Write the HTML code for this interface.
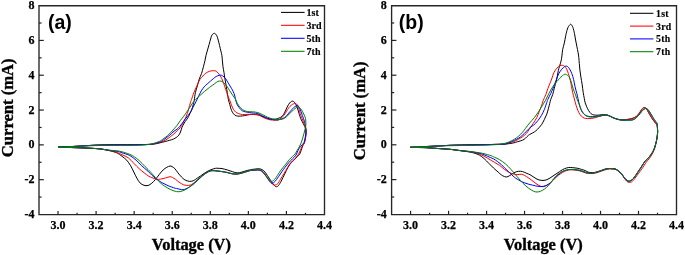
<!DOCTYPE html>
<html><head><meta charset="utf-8"><style>
html,body{margin:0;padding:0;background:#fff;}
body{width:685px;height:255px;overflow:hidden;}
svg{display:block;will-change:transform;}
.tl{font-family:"Liberation Serif",serif;font-weight:bold;font-size:12px;fill:#000;stroke:#000;stroke-width:0.25px;}
.lg{font-family:"Liberation Serif",serif;font-weight:bold;font-size:10px;fill:#000;stroke:#000;stroke-width:0.15px;}
.lgb{letter-spacing:0.35px;font-size:9.8px;}
.at{font-family:"Liberation Serif",serif;font-weight:bold;font-size:16.6px;fill:#000;stroke:#000;stroke-width:0.35px;}
.pl{font-family:"Liberation Sans",sans-serif;font-weight:bold;font-size:19.5px;fill:#000;}
</style></head><body>
<svg width="685" height="255" viewBox="0 0 685 255">
<rect width="685" height="255" fill="#fff"/>
<path d="M58.00,147.20 C59.33,147.13 62.97,146.95 66.00,146.80 C69.03,146.65 71.37,146.57 76.20,146.30 C81.03,146.03 89.87,145.43 95.00,145.20 C100.13,144.97 102.83,144.97 107.00,144.90 C111.17,144.83 115.33,144.83 120.00,144.80 C124.67,144.78 130.67,144.80 135.00,144.75 C139.33,144.70 143.20,144.59 146.00,144.50 C148.80,144.41 150.08,144.33 151.80,144.20 C153.52,144.07 154.93,143.93 156.30,143.70 C157.67,143.47 158.43,143.18 160.00,142.80 C161.57,142.42 163.45,142.03 165.70,141.40 C167.95,140.77 171.42,139.92 173.50,139.00 C175.58,138.08 177.03,137.07 178.20,135.90 C179.37,134.73 179.90,133.37 180.50,132.00 C181.10,130.63 181.18,129.20 181.80,127.70 C182.42,126.20 183.42,124.32 184.20,123.00 C184.98,121.68 185.78,120.85 186.50,119.80 C187.22,118.75 187.93,117.75 188.50,116.70 C189.07,115.65 189.37,114.65 189.90,113.50 C190.43,112.35 191.15,111.23 191.70,109.80 C192.25,108.37 192.78,106.45 193.20,104.90 C193.62,103.35 193.83,102.55 194.20,100.50 C194.57,98.45 194.87,95.05 195.40,92.60 C195.93,90.15 196.75,88.08 197.40,85.80 C198.05,83.52 198.62,80.93 199.30,78.90 C199.98,76.87 200.82,75.62 201.50,73.60 C202.18,71.58 202.83,68.92 203.40,66.80 C203.97,64.68 204.47,62.80 204.90,60.90 C205.33,59.00 205.57,57.22 206.00,55.40 C206.43,53.58 206.98,51.82 207.50,50.00 C208.02,48.18 208.58,46.33 209.10,44.50 C209.62,42.67 210.13,40.57 210.60,39.00 C211.07,37.43 211.27,36.05 211.90,35.10 C212.53,34.15 213.58,33.20 214.40,33.30 C215.22,33.40 216.17,34.57 216.80,35.70 C217.43,36.83 217.73,38.45 218.20,40.10 C218.67,41.75 219.15,43.77 219.60,45.60 C220.05,47.43 220.52,49.47 220.90,51.10 C221.28,52.73 221.65,53.77 221.90,55.40 C222.15,57.03 222.22,59.00 222.40,60.90 C222.58,62.80 222.73,64.85 223.00,66.80 C223.27,68.75 223.73,70.90 224.00,72.60 C224.27,74.30 224.38,75.62 224.60,77.00 C224.82,78.38 225.02,79.27 225.30,80.90 C225.58,82.53 225.97,84.85 226.30,86.80 C226.63,88.75 226.95,90.45 227.30,92.60 C227.65,94.75 227.97,97.67 228.40,99.70 C228.83,101.73 229.48,103.30 229.90,104.80 C230.32,106.30 230.48,107.47 230.90,108.70 C231.32,109.93 231.75,111.13 232.40,112.20 C233.05,113.27 233.92,114.45 234.80,115.10 C235.68,115.75 236.72,115.93 237.70,116.10 C238.68,116.27 239.55,116.18 240.70,116.10 C241.85,116.02 243.13,115.85 244.60,115.60 C246.07,115.35 248.02,114.78 249.50,114.60 C250.98,114.42 252.12,114.45 253.50,114.50 C254.88,114.55 256.60,114.70 257.80,114.90 C259.00,115.10 259.40,115.23 260.70,115.70 C262.00,116.17 264.05,117.15 265.60,117.70 C267.15,118.25 268.43,118.73 270.00,119.00 C271.57,119.27 273.52,119.45 275.00,119.30 C276.48,119.15 277.67,118.63 278.90,118.10 C280.13,117.57 281.42,117.08 282.40,116.10 C283.38,115.12 284.07,113.58 284.80,112.20 C285.53,110.82 286.15,109.12 286.80,107.80 C287.45,106.48 288.05,105.28 288.70,104.30 C289.35,103.32 290.05,102.43 290.70,101.90 C291.35,101.37 291.95,101.02 292.60,101.10 C293.25,101.18 293.93,101.62 294.60,102.40 C295.27,103.18 296.03,104.53 296.60,105.80 C297.17,107.07 297.55,108.58 298.00,110.00 C298.45,111.42 298.83,112.83 299.30,114.30 C299.77,115.77 300.15,117.27 300.80,118.80 C301.45,120.33 302.53,122.22 303.20,123.50 C303.87,124.78 304.37,125.58 304.80,126.50 C305.23,127.42 305.60,128.08 305.80,129.00 C306.00,129.92 306.00,130.83 306.00,132.00 C306.00,133.17 306.07,134.20 305.80,136.00 C305.53,137.80 304.93,141.13 304.40,142.80 C303.87,144.47 303.13,144.77 302.60,146.00 C302.07,147.23 301.67,148.90 301.20,150.20 C300.73,151.50 300.45,152.73 299.80,153.80 C299.15,154.87 298.18,155.67 297.30,156.60 C296.42,157.53 295.45,158.47 294.50,159.40 C293.55,160.33 292.68,160.88 291.60,162.20 C290.52,163.52 289.17,165.30 288.00,167.30 C286.83,169.30 285.73,171.90 284.60,174.20 C283.47,176.50 282.22,179.22 281.20,181.10 C280.18,182.98 279.33,184.57 278.50,185.50 C277.67,186.43 276.98,186.80 276.20,186.70 C275.42,186.60 274.68,185.88 273.80,184.90 C272.92,183.92 271.97,182.37 270.90,180.80 C269.83,179.23 268.58,177.17 267.40,175.50 C266.22,173.83 265.08,171.92 263.80,170.80 C262.52,169.68 261.17,169.08 259.70,168.80 C258.23,168.52 256.12,169.02 255.00,169.10 C253.88,169.18 254.18,169.10 253.00,169.30 C251.82,169.50 249.77,169.83 247.90,170.30 C246.03,170.77 243.60,171.67 241.80,172.10 C240.00,172.53 238.68,172.98 237.10,172.90 C235.52,172.82 233.95,172.10 232.30,171.60 C230.65,171.10 228.92,170.40 227.20,169.90 C225.48,169.40 223.53,168.87 222.00,168.60 C220.47,168.33 219.07,168.35 218.00,168.30 C216.93,168.25 216.82,168.05 215.60,168.30 C214.38,168.55 212.33,169.13 210.70,169.80 C209.07,170.47 207.50,171.27 205.80,172.30 C204.10,173.33 201.92,175.03 200.50,176.00 C199.08,176.97 198.42,177.35 197.30,178.10 C196.18,178.85 195.08,179.95 193.80,180.50 C192.52,181.05 191.08,181.50 189.60,181.40 C188.12,181.30 186.27,180.65 184.90,179.90 C183.53,179.15 182.57,178.08 181.40,176.90 C180.23,175.72 178.98,174.17 177.90,172.80 C176.82,171.43 175.88,169.73 174.90,168.70 C173.92,167.67 172.82,167.05 172.00,166.60 C171.18,166.15 170.87,165.88 170.00,166.00 C169.13,166.12 167.95,166.63 166.80,167.30 C165.65,167.97 164.35,168.82 163.10,170.00 C161.85,171.18 160.57,172.83 159.30,174.40 C158.03,175.97 156.75,177.93 155.50,179.40 C154.25,180.87 153.05,182.18 151.80,183.20 C150.55,184.22 149.30,185.15 148.00,185.50 C146.70,185.85 145.33,185.73 144.00,185.30 C142.67,184.87 141.18,184.08 140.00,182.90 C138.82,181.72 137.93,180.02 136.90,178.20 C135.87,176.38 134.85,174.08 133.80,172.00 C132.75,169.92 131.78,167.67 130.60,165.70 C129.42,163.73 128.13,161.77 126.70,160.20 C125.27,158.63 123.62,157.53 122.00,156.30 C120.38,155.07 118.88,153.70 117.00,152.80 C115.12,151.90 113.05,151.48 110.70,150.90 C108.35,150.32 105.52,149.70 102.90,149.30 C100.28,148.90 98.82,148.75 95.00,148.50 C91.18,148.25 84.83,147.98 80.00,147.80 C75.17,147.62 69.67,147.50 66.00,147.40 C62.33,147.30 59.33,147.23 58.00,147.20" fill="none" stroke="#000000" stroke-width="1.0" stroke-linejoin="round"/>
<path d="M58.00,147.20 C59.33,147.13 62.97,146.95 66.00,146.80 C69.03,146.65 71.37,146.57 76.20,146.30 C81.03,146.03 89.87,145.43 95.00,145.20 C100.13,144.97 102.83,144.97 107.00,144.90 C111.17,144.83 115.33,144.83 120.00,144.80 C124.67,144.78 130.67,144.80 135.00,144.75 C139.33,144.70 143.20,144.59 146.00,144.50 C148.80,144.41 149.80,144.45 151.80,144.20 C153.80,143.95 156.13,143.48 158.00,143.00 C159.87,142.52 161.50,141.93 163.00,141.30 C164.50,140.67 165.77,139.97 167.00,139.20 C168.23,138.43 169.23,137.60 170.40,136.70 C171.57,135.80 172.88,134.78 174.00,133.80 C175.12,132.82 176.05,131.82 177.10,130.80 C178.15,129.78 179.32,129.00 180.30,127.70 C181.28,126.40 182.15,124.57 183.00,123.00 C183.85,121.43 184.68,119.87 185.40,118.30 C186.12,116.73 186.73,115.23 187.30,113.60 C187.87,111.97 188.30,110.28 188.80,108.50 C189.30,106.72 189.85,104.40 190.30,102.90 C190.75,101.40 190.90,101.22 191.50,99.50 C192.10,97.78 193.00,94.88 193.90,92.60 C194.80,90.32 195.92,87.97 196.90,85.80 C197.88,83.63 198.80,81.22 199.80,79.60 C200.80,77.98 201.88,77.18 202.90,76.10 C203.92,75.02 204.75,73.92 205.90,73.10 C207.05,72.28 208.50,71.60 209.80,71.20 C211.10,70.80 212.63,70.70 213.70,70.70 C214.77,70.70 215.47,70.80 216.20,71.20 C216.93,71.60 217.45,72.37 218.10,73.10 C218.75,73.83 219.47,74.63 220.10,75.60 C220.73,76.57 221.28,77.53 221.90,78.90 C222.52,80.27 223.15,82.00 223.80,83.80 C224.45,85.60 225.15,87.78 225.80,89.70 C226.45,91.62 227.08,93.63 227.70,95.30 C228.32,96.97 228.88,98.12 229.50,99.70 C230.12,101.28 230.77,103.22 231.40,104.80 C232.03,106.38 232.57,107.97 233.30,109.20 C234.03,110.43 234.90,111.47 235.80,112.20 C236.70,112.93 237.57,113.20 238.70,113.60 C239.83,114.00 241.05,114.48 242.60,114.60 C244.15,114.72 246.28,114.35 248.00,114.30 C249.72,114.25 251.27,114.23 252.90,114.30 C254.53,114.37 256.17,114.22 257.80,114.70 C259.43,115.18 261.07,116.45 262.70,117.20 C264.33,117.95 265.97,118.72 267.60,119.20 C269.23,119.68 270.77,119.95 272.50,120.10 C274.23,120.25 276.60,120.43 278.00,120.10 C279.40,119.77 279.93,118.85 280.90,118.10 C281.87,117.35 282.90,116.67 283.80,115.60 C284.70,114.53 285.48,113.00 286.30,111.70 C287.12,110.40 287.88,108.87 288.70,107.80 C289.52,106.73 290.38,105.97 291.20,105.30 C292.02,104.63 292.87,104.08 293.60,103.80 C294.33,103.52 294.98,103.43 295.60,103.60 C296.22,103.77 296.78,103.98 297.30,104.80 C297.82,105.62 298.12,106.75 298.70,108.50 C299.28,110.25 300.05,113.18 300.80,115.30 C301.55,117.42 302.52,119.33 303.20,121.20 C303.88,123.07 304.45,125.03 304.90,126.50 C305.35,127.97 305.73,128.92 305.90,130.00 C306.07,131.08 305.95,131.83 305.90,133.00 C305.85,134.17 305.87,135.37 305.60,137.00 C305.33,138.63 304.92,141.18 304.30,142.80 C303.68,144.42 302.77,144.98 301.90,146.70 C301.03,148.42 300.00,151.42 299.10,153.10 C298.20,154.78 297.38,155.63 296.50,156.80 C295.62,157.97 294.85,159.02 293.80,160.10 C292.75,161.18 291.25,162.07 290.20,163.30 C289.15,164.53 288.53,165.80 287.50,167.50 C286.47,169.20 285.17,171.55 284.00,173.50 C282.83,175.45 281.55,177.48 280.50,179.20 C279.45,180.92 278.48,182.87 277.70,183.80 C276.92,184.73 276.45,184.62 275.80,184.80 C275.15,184.98 274.62,185.27 273.80,184.90 C272.98,184.53 271.88,183.67 270.90,182.60 C269.92,181.53 268.98,180.07 267.90,178.50 C266.82,176.93 265.57,174.58 264.40,173.20 C263.23,171.82 262.47,170.73 260.90,170.20 C259.33,169.67 256.82,169.93 255.00,170.00 C253.18,170.07 251.18,170.40 250.00,170.60 C248.82,170.80 249.12,170.83 247.90,171.20 C246.68,171.57 244.43,172.33 242.70,172.80 C240.97,173.27 239.23,173.83 237.50,174.00 C235.77,174.17 234.02,174.05 232.30,173.80 C230.58,173.55 228.92,172.87 227.20,172.50 C225.48,172.13 223.93,171.88 222.00,171.60 C220.07,171.32 217.48,170.93 215.60,170.80 C213.72,170.67 212.33,170.40 210.70,170.80 C209.07,171.20 207.50,172.17 205.80,173.20 C204.10,174.23 202.22,175.60 200.50,177.00 C198.78,178.40 197.02,180.33 195.50,181.60 C193.98,182.87 192.57,183.97 191.40,184.60 C190.23,185.23 189.77,185.35 188.50,185.40 C187.23,185.45 185.37,185.43 183.80,184.90 C182.23,184.37 180.48,183.13 179.10,182.20 C177.72,181.27 176.60,180.08 175.50,179.30 C174.40,178.52 173.42,177.93 172.50,177.50 C171.58,177.07 171.15,176.63 170.00,176.70 C168.85,176.77 167.18,177.50 165.60,177.90 C164.02,178.30 162.07,178.88 160.50,179.10 C158.93,179.32 157.65,179.45 156.20,179.20 C154.75,178.95 153.08,178.13 151.80,177.60 C150.52,177.07 149.80,176.82 148.50,176.00 C147.20,175.18 145.53,173.90 144.00,172.70 C142.47,171.50 141.00,170.37 139.30,168.80 C137.60,167.23 135.63,165.13 133.80,163.30 C131.97,161.47 130.27,159.23 128.30,157.80 C126.33,156.37 123.62,155.47 122.00,154.70 C120.38,153.93 120.48,153.83 118.60,153.20 C116.72,152.57 113.32,151.55 110.70,150.90 C108.08,150.25 105.52,149.70 102.90,149.30 C100.28,148.90 98.82,148.75 95.00,148.50 C91.18,148.25 84.83,147.98 80.00,147.80 C75.17,147.62 69.67,147.50 66.00,147.40 C62.33,147.30 59.33,147.23 58.00,147.20" fill="none" stroke="#ff0000" stroke-width="1.0" stroke-linejoin="round"/>
<path d="M58.00,147.20 C59.33,147.13 62.97,146.95 66.00,146.80 C69.03,146.65 71.37,146.57 76.20,146.30 C81.03,146.03 89.87,145.43 95.00,145.20 C100.13,144.97 102.83,144.97 107.00,144.90 C111.17,144.83 115.33,144.83 120.00,144.80 C124.67,144.78 130.67,144.80 135.00,144.75 C139.33,144.70 143.20,144.59 146.00,144.50 C148.80,144.41 149.57,144.58 151.80,144.20 C154.03,143.82 157.45,142.93 159.40,142.20 C161.35,141.47 161.93,140.85 163.50,139.80 C165.07,138.75 167.05,137.33 168.80,135.90 C170.55,134.47 172.48,132.43 174.00,131.20 C175.52,129.97 176.60,129.73 177.90,128.50 C179.20,127.27 180.48,125.50 181.80,123.80 C183.12,122.10 184.42,120.13 185.80,118.30 C187.18,116.47 188.95,114.55 190.10,112.80 C191.25,111.05 191.70,109.68 192.70,107.80 C193.70,105.92 194.92,103.87 196.10,101.50 C197.28,99.13 198.70,95.73 199.80,93.60 C200.90,91.47 201.72,90.08 202.70,88.70 C203.68,87.32 204.55,86.43 205.70,85.30 C206.85,84.17 208.58,82.78 209.60,81.90 C210.62,81.02 210.95,80.73 211.80,80.00 C212.65,79.27 213.73,78.20 214.70,77.50 C215.67,76.80 216.62,76.20 217.60,75.80 C218.58,75.40 219.73,75.07 220.60,75.10 C221.47,75.13 221.93,75.37 222.80,76.00 C223.67,76.63 224.82,77.60 225.80,78.90 C226.78,80.20 227.72,82.17 228.70,83.80 C229.68,85.43 230.80,87.07 231.70,88.70 C232.60,90.33 233.48,91.93 234.10,93.60 C234.72,95.27 234.95,97.00 235.40,98.70 C235.85,100.40 236.17,102.30 236.80,103.80 C237.43,105.30 238.30,106.55 239.20,107.70 C240.10,108.85 241.13,110.00 242.20,110.70 C243.27,111.40 244.38,111.60 245.60,111.90 C246.82,112.20 248.28,112.32 249.50,112.50 C250.72,112.68 251.52,112.82 252.90,113.00 C254.28,113.18 256.17,113.10 257.80,113.60 C259.43,114.10 261.07,115.22 262.70,116.00 C264.33,116.78 265.97,117.72 267.60,118.30 C269.23,118.88 270.77,119.25 272.50,119.50 C274.23,119.75 276.28,119.97 278.00,119.80 C279.72,119.63 281.50,119.03 282.80,118.50 C284.10,117.97 284.82,117.48 285.80,116.60 C286.78,115.72 287.80,114.27 288.70,113.20 C289.60,112.13 290.38,111.10 291.20,110.20 C292.02,109.30 292.78,108.53 293.60,107.80 C294.42,107.07 295.37,106.13 296.10,105.80 C296.83,105.47 297.45,105.52 298.00,105.80 C298.55,106.08 298.93,106.63 299.40,107.50 C299.87,108.37 300.32,109.70 300.80,111.00 C301.28,112.30 301.70,113.60 302.30,115.30 C302.90,117.00 303.87,119.42 304.40,121.20 C304.93,122.98 305.23,124.53 305.50,126.00 C305.77,127.47 305.93,128.83 306.00,130.00 C306.07,131.17 306.02,131.83 305.90,133.00 C305.78,134.17 305.62,135.42 305.30,137.00 C304.98,138.58 304.80,140.92 304.00,142.50 C303.20,144.08 301.50,145.17 300.50,146.50 C299.50,147.83 298.77,149.05 298.00,150.50 C297.23,151.95 296.82,153.82 295.90,155.20 C294.98,156.58 293.68,157.57 292.50,158.80 C291.32,160.03 290.05,161.18 288.80,162.60 C287.55,164.02 286.12,165.83 285.00,167.30 C283.88,168.77 283.18,169.83 282.10,171.40 C281.02,172.97 279.68,175.03 278.50,176.70 C277.32,178.37 276.07,180.32 275.00,181.40 C273.93,182.48 272.98,183.20 272.10,183.20 C271.22,183.20 270.58,182.38 269.70,181.40 C268.82,180.42 267.88,178.77 266.80,177.30 C265.72,175.83 264.38,173.78 263.20,172.60 C262.02,171.42 261.07,170.60 259.70,170.20 C258.33,169.80 256.62,170.13 255.00,170.20 C253.38,170.27 251.18,170.43 250.00,170.60 C248.82,170.77 249.12,170.83 247.90,171.20 C246.68,171.57 244.43,172.33 242.70,172.80 C240.97,173.27 239.23,173.83 237.50,174.00 C235.77,174.17 234.02,174.05 232.30,173.80 C230.58,173.55 228.92,172.87 227.20,172.50 C225.48,172.13 223.93,171.88 222.00,171.60 C220.07,171.32 217.48,170.93 215.60,170.80 C213.72,170.67 212.33,170.40 210.70,170.80 C209.07,171.20 207.58,171.98 205.80,173.20 C204.02,174.42 201.90,176.40 200.00,178.10 C198.10,179.80 196.13,181.93 194.40,183.40 C192.67,184.87 191.18,185.92 189.60,186.90 C188.02,187.88 186.27,188.85 184.90,189.30 C183.53,189.75 182.77,189.73 181.40,189.60 C180.03,189.47 177.77,188.73 176.70,188.50 C175.63,188.27 176.43,188.67 175.00,188.20 C173.57,187.73 170.30,186.63 168.10,185.70 C165.90,184.77 163.78,183.75 161.80,182.60 C159.82,181.45 157.87,180.05 156.20,178.80 C154.53,177.55 153.17,176.37 151.80,175.10 C150.43,173.83 149.70,172.77 148.00,171.20 C146.30,169.63 143.58,167.53 141.60,165.70 C139.62,163.87 138.07,161.90 136.10,160.20 C134.13,158.50 132.15,156.73 129.80,155.50 C127.45,154.27 123.97,153.45 122.00,152.80 C120.03,152.15 119.88,151.97 118.00,151.60 C116.12,151.23 113.22,150.98 110.70,150.60 C108.18,150.22 105.52,149.65 102.90,149.30 C100.28,148.95 98.82,148.75 95.00,148.50 C91.18,148.25 84.83,147.98 80.00,147.80 C75.17,147.62 69.67,147.50 66.00,147.40 C62.33,147.30 59.33,147.23 58.00,147.20" fill="none" stroke="#0000ff" stroke-width="1.0" stroke-linejoin="round"/>
<path d="M58.00,147.20 C59.33,147.13 62.97,146.95 66.00,146.80 C69.03,146.65 71.37,146.50 76.20,146.30 C81.03,146.10 89.37,145.73 95.00,145.60 C100.63,145.47 104.17,145.53 110.00,145.50 C115.83,145.47 125.00,145.45 130.00,145.40 C135.00,145.35 136.67,145.38 140.00,145.20 C143.33,145.02 146.77,144.93 150.00,144.30 C153.23,143.67 157.20,142.32 159.40,141.40 C161.60,140.48 161.88,139.72 163.20,138.80 C164.52,137.88 166.00,137.00 167.30,135.90 C168.60,134.80 169.88,133.37 171.00,132.20 C172.12,131.03 172.98,130.05 174.00,128.90 C175.02,127.75 176.05,126.68 177.10,125.30 C178.15,123.92 179.25,122.03 180.30,120.60 C181.35,119.17 182.42,118.00 183.40,116.70 C184.38,115.40 185.13,114.35 186.20,112.80 C187.27,111.25 188.72,109.05 189.80,107.40 C190.88,105.75 191.75,104.20 192.70,102.90 C193.65,101.60 194.32,100.82 195.50,99.60 C196.68,98.38 198.27,97.00 199.80,95.60 C201.33,94.20 203.07,92.58 204.70,91.20 C206.33,89.82 207.97,88.53 209.60,87.30 C211.23,86.07 213.12,84.78 214.50,83.80 C215.88,82.82 216.83,81.85 217.90,81.40 C218.97,80.95 220.00,80.93 220.90,81.10 C221.80,81.27 222.57,81.87 223.30,82.40 C224.03,82.93 224.63,83.57 225.30,84.30 C225.97,85.03 226.57,85.73 227.30,86.80 C228.03,87.87 228.82,89.32 229.70,90.70 C230.58,92.08 231.67,93.73 232.60,95.10 C233.53,96.47 234.52,97.53 235.30,98.90 C236.08,100.27 236.57,101.98 237.30,103.30 C238.03,104.62 238.82,105.73 239.70,106.80 C240.58,107.87 241.53,108.97 242.60,109.70 C243.67,110.43 244.95,110.87 246.10,111.20 C247.25,111.53 248.37,111.60 249.50,111.70 C250.63,111.80 251.52,111.65 252.90,111.80 C254.28,111.95 256.17,112.12 257.80,112.60 C259.43,113.08 261.07,113.93 262.70,114.70 C264.33,115.47 265.97,116.50 267.60,117.20 C269.23,117.90 270.77,118.52 272.50,118.90 C274.23,119.28 276.60,119.40 278.00,119.50 C279.40,119.60 279.77,119.73 280.90,119.50 C282.03,119.27 283.67,118.75 284.80,118.10 C285.93,117.45 286.72,116.50 287.70,115.60 C288.68,114.70 289.72,113.68 290.70,112.70 C291.68,111.72 292.70,110.52 293.60,109.70 C294.50,108.88 295.28,108.25 296.10,107.80 C296.92,107.35 297.77,106.88 298.50,107.00 C299.23,107.12 299.83,107.75 300.50,108.50 C301.17,109.25 301.88,110.42 302.50,111.50 C303.12,112.58 303.70,113.83 304.20,115.00 C304.70,116.17 305.22,117.08 305.50,118.50 C305.78,119.92 305.90,122.08 305.90,123.50 C305.90,124.92 305.72,125.75 305.50,127.00 C305.28,128.25 304.97,129.50 304.60,131.00 C304.23,132.50 303.77,134.33 303.30,136.00 C302.83,137.67 302.40,139.33 301.80,141.00 C301.20,142.67 300.45,144.47 299.70,146.00 C298.95,147.53 298.05,148.90 297.30,150.20 C296.55,151.50 296.02,152.73 295.20,153.80 C294.38,154.87 293.35,155.67 292.40,156.60 C291.45,157.53 290.45,158.35 289.50,159.40 C288.55,160.45 287.55,161.83 286.70,162.90 C285.85,163.97 285.37,164.58 284.40,165.80 C283.43,167.02 282.07,168.58 280.90,170.20 C279.73,171.82 278.48,173.93 277.40,175.50 C276.32,177.07 275.38,178.62 274.40,179.60 C273.42,180.58 272.48,181.48 271.50,181.40 C270.52,181.32 269.48,180.08 268.50,179.10 C267.52,178.12 266.67,176.78 265.60,175.50 C264.53,174.22 263.28,172.43 262.10,171.40 C260.92,170.37 259.68,169.60 258.50,169.30 C257.32,169.00 256.42,169.38 255.00,169.60 C253.58,169.82 251.18,170.33 250.00,170.60 C248.82,170.87 249.12,170.83 247.90,171.20 C246.68,171.57 244.43,172.33 242.70,172.80 C240.97,173.27 239.23,173.83 237.50,174.00 C235.77,174.17 234.02,174.05 232.30,173.80 C230.58,173.55 228.92,172.87 227.20,172.50 C225.48,172.13 223.93,171.88 222.00,171.60 C220.07,171.32 217.48,170.93 215.60,170.80 C213.72,170.67 212.33,170.40 210.70,170.80 C209.07,171.20 207.58,172.08 205.80,173.20 C204.02,174.32 201.90,175.90 200.00,177.50 C198.10,179.10 196.13,181.23 194.40,182.80 C192.67,184.37 191.18,185.72 189.60,186.90 C188.02,188.08 186.47,189.12 184.90,189.90 C183.33,190.68 181.57,191.32 180.20,191.60 C178.83,191.88 177.57,191.67 176.70,191.60 C175.83,191.53 176.02,191.53 175.00,191.20 C173.98,190.87 172.32,190.43 170.60,189.60 C168.88,188.77 166.38,187.30 164.70,186.20 C163.02,185.10 161.80,184.15 160.50,183.00 C159.20,181.85 158.48,181.05 156.90,179.30 C155.32,177.55 152.97,174.62 151.00,172.50 C149.03,170.38 147.07,168.58 145.10,166.60 C143.13,164.62 140.97,162.20 139.20,160.60 C137.43,159.00 136.13,158.07 134.50,157.00 C132.87,155.93 131.88,155.17 129.40,154.20 C126.92,153.23 122.72,151.85 119.60,151.20 C116.48,150.55 113.48,150.62 110.70,150.30 C107.92,149.98 105.52,149.60 102.90,149.30 C100.28,149.00 98.82,148.75 95.00,148.50 C91.18,148.25 84.83,147.98 80.00,147.80 C75.17,147.62 69.67,147.50 66.00,147.40 C62.33,147.30 59.33,147.23 58.00,147.20" fill="none" stroke="#008000" stroke-width="1.0" stroke-linejoin="round"/>
<path d="M39.00,5.75 H324.50 V214.62 H39.00 Z" fill="none" stroke="#262626" stroke-width="1.35"/>
<line x1="39.00" y1="197.09" x2="41.60" y2="197.09" stroke="#222" stroke-width="1.2"/>
<line x1="39.00" y1="179.68" x2="43.80" y2="179.68" stroke="#222" stroke-width="1.2"/>
<line x1="39.00" y1="162.27" x2="41.60" y2="162.27" stroke="#222" stroke-width="1.2"/>
<line x1="39.00" y1="144.87" x2="43.80" y2="144.87" stroke="#222" stroke-width="1.2"/>
<line x1="39.00" y1="127.46" x2="41.60" y2="127.46" stroke="#222" stroke-width="1.2"/>
<line x1="39.00" y1="110.05" x2="43.80" y2="110.05" stroke="#222" stroke-width="1.2"/>
<line x1="39.00" y1="92.64" x2="41.60" y2="92.64" stroke="#222" stroke-width="1.2"/>
<line x1="39.00" y1="75.23" x2="43.80" y2="75.23" stroke="#222" stroke-width="1.2"/>
<line x1="39.00" y1="57.82" x2="41.60" y2="57.82" stroke="#222" stroke-width="1.2"/>
<line x1="39.00" y1="40.42" x2="43.80" y2="40.42" stroke="#222" stroke-width="1.2"/>
<line x1="39.00" y1="23.01" x2="41.60" y2="23.01" stroke="#222" stroke-width="1.2"/>
<text x="34.40" y="218.10" class="tl" text-anchor="end">-4</text>
<text x="34.40" y="183.28" class="tl" text-anchor="end">-2</text>
<text x="34.40" y="148.47" class="tl" text-anchor="end">0</text>
<text x="34.40" y="113.65" class="tl" text-anchor="end">2</text>
<text x="34.40" y="78.83" class="tl" text-anchor="end">4</text>
<text x="34.40" y="44.02" class="tl" text-anchor="end">6</text>
<text x="34.40" y="9.20" class="tl" text-anchor="end">8</text>
<line x1="58.03" y1="214.50" x2="58.03" y2="210.90" stroke="#222" stroke-width="1.2"/>
<line x1="77.07" y1="214.50" x2="77.07" y2="212.80" stroke="#222" stroke-width="1.2"/>
<line x1="96.10" y1="214.50" x2="96.10" y2="210.90" stroke="#222" stroke-width="1.2"/>
<line x1="115.13" y1="214.50" x2="115.13" y2="212.80" stroke="#222" stroke-width="1.2"/>
<line x1="134.17" y1="214.50" x2="134.17" y2="210.90" stroke="#222" stroke-width="1.2"/>
<line x1="153.20" y1="214.50" x2="153.20" y2="212.80" stroke="#222" stroke-width="1.2"/>
<line x1="172.23" y1="214.50" x2="172.23" y2="210.90" stroke="#222" stroke-width="1.2"/>
<line x1="191.27" y1="214.50" x2="191.27" y2="212.80" stroke="#222" stroke-width="1.2"/>
<line x1="210.30" y1="214.50" x2="210.30" y2="210.90" stroke="#222" stroke-width="1.2"/>
<line x1="229.33" y1="214.50" x2="229.33" y2="212.80" stroke="#222" stroke-width="1.2"/>
<line x1="248.37" y1="214.50" x2="248.37" y2="210.90" stroke="#222" stroke-width="1.2"/>
<line x1="267.40" y1="214.50" x2="267.40" y2="212.80" stroke="#222" stroke-width="1.2"/>
<line x1="286.43" y1="214.50" x2="286.43" y2="210.90" stroke="#222" stroke-width="1.2"/>
<line x1="305.47" y1="214.50" x2="305.47" y2="212.80" stroke="#222" stroke-width="1.2"/>
<text x="58.03" y="229.20" class="tl" text-anchor="middle">3.0</text>
<text x="96.10" y="229.20" class="tl" text-anchor="middle">3.2</text>
<text x="134.17" y="229.20" class="tl" text-anchor="middle">3.4</text>
<text x="172.23" y="229.20" class="tl" text-anchor="middle">3.6</text>
<text x="210.30" y="229.20" class="tl" text-anchor="middle">3.8</text>
<text x="248.37" y="229.20" class="tl" text-anchor="middle">4.0</text>
<text x="286.43" y="229.20" class="tl" text-anchor="middle">4.2</text>
<text x="324.50" y="229.20" class="tl" text-anchor="middle">4.4</text>
<line x1="281.00" y1="12.40" x2="304.60" y2="12.40" stroke="#000000" stroke-width="1.05"/>
<text x="306.60" y="15.90" class="lg">1st</text>
<line x1="281.00" y1="25.30" x2="304.60" y2="25.30" stroke="#ff0000" stroke-width="1.05"/>
<text x="306.60" y="28.80" class="lg">3rd</text>
<line x1="281.00" y1="38.30" x2="304.60" y2="38.30" stroke="#0000ff" stroke-width="1.05"/>
<text x="306.60" y="41.80" class="lg">5th</text>
<line x1="281.00" y1="51.30" x2="304.60" y2="51.30" stroke="#008000" stroke-width="1.05"/>
<text x="306.60" y="54.80" class="lg">7th</text>
<text x="47.90" y="28.50" class="pl">(a)</text>
<text x="191.40" y="250.20" class="at" style="font-size:16.4px" text-anchor="middle">Voltage (V)</text>
<text transform="translate(13.20,107.80) rotate(-90)" class="at" text-anchor="middle">Current (mA)</text>
<path d="M410.30,147.30 C411.58,147.25 415.27,147.13 418.00,147.00 C420.73,146.87 422.92,146.69 426.70,146.50 C430.48,146.31 436.82,146.05 440.70,145.85 C444.58,145.65 446.78,145.43 450.00,145.30 C453.22,145.17 456.33,145.12 460.00,145.05 C463.67,144.98 467.83,144.92 472.00,144.85 C476.17,144.78 481.17,144.72 485.00,144.65 C488.83,144.58 491.68,144.49 495.00,144.40 C498.32,144.31 501.95,144.32 504.90,144.10 C507.85,143.88 510.58,143.50 512.70,143.10 C514.82,142.70 515.97,142.18 517.60,141.70 C519.23,141.22 521.18,140.78 522.50,140.20 C523.82,139.62 524.52,139.02 525.50,138.20 C526.48,137.38 527.48,136.03 528.40,135.30 C529.32,134.57 529.98,134.38 531.00,133.80 C532.02,133.22 533.43,132.53 534.50,131.80 C535.57,131.07 536.23,130.58 537.40,129.40 C538.57,128.22 540.33,126.37 541.50,124.70 C542.67,123.03 543.52,121.17 544.40,119.40 C545.28,117.63 546.12,115.97 546.80,114.10 C547.48,112.23 548.02,109.97 548.50,108.20 C548.98,106.43 549.33,104.95 549.70,103.50 C550.07,102.05 550.20,100.98 550.70,99.50 C551.20,98.02 552.12,96.40 552.70,94.60 C553.28,92.80 553.78,90.33 554.20,88.70 C554.62,87.07 554.80,86.27 555.20,84.80 C555.60,83.33 556.22,81.53 556.60,79.90 C556.98,78.27 557.22,76.53 557.50,75.00 C557.78,73.47 558.00,72.07 558.30,70.70 C558.60,69.33 558.97,67.95 559.30,66.80 C559.63,65.65 559.97,64.95 560.30,63.80 C560.63,62.65 561.03,61.20 561.30,59.90 C561.57,58.60 561.67,57.75 561.90,56.00 C562.13,54.25 562.30,51.55 562.70,49.40 C563.10,47.25 563.78,45.45 564.30,43.10 C564.82,40.75 565.28,37.65 565.80,35.30 C566.32,32.95 566.87,30.58 567.40,29.00 C567.93,27.42 568.42,26.58 569.00,25.80 C569.58,25.02 570.25,24.03 570.90,24.30 C571.55,24.57 572.30,25.83 572.90,27.40 C573.50,28.97 574.05,31.60 574.50,33.70 C574.95,35.80 575.22,37.92 575.60,40.00 C575.98,42.08 576.38,44.12 576.80,46.20 C577.22,48.28 577.77,50.62 578.10,52.50 C578.43,54.38 578.60,55.67 578.80,57.50 C579.00,59.33 579.12,61.42 579.30,63.50 C579.48,65.58 579.63,67.73 579.90,70.00 C580.17,72.27 580.53,74.75 580.90,77.10 C581.27,79.45 581.72,81.55 582.10,84.10 C582.48,86.65 582.83,90.00 583.20,92.40 C583.57,94.80 583.97,96.75 584.30,98.50 C584.63,100.25 584.80,101.52 585.20,102.90 C585.60,104.28 586.12,105.50 586.70,106.80 C587.28,108.10 587.97,109.55 588.70,110.70 C589.43,111.85 590.28,113.00 591.10,113.70 C591.92,114.40 592.62,114.65 593.60,114.90 C594.58,115.15 596.05,115.18 597.00,115.20 C597.95,115.22 598.20,115.10 599.30,115.00 C600.40,114.90 602.17,114.57 603.60,114.60 C605.03,114.63 606.47,114.77 607.90,115.20 C609.33,115.63 610.75,116.58 612.20,117.20 C613.65,117.82 615.15,118.47 616.60,118.90 C618.05,119.33 619.50,119.65 620.90,119.80 C622.30,119.95 623.65,119.90 625.00,119.80 C626.35,119.70 627.67,119.47 629.00,119.20 C630.33,118.93 631.75,118.67 633.00,118.20 C634.25,117.73 635.42,117.28 636.50,116.40 C637.58,115.52 638.62,114.07 639.50,112.90 C640.38,111.73 641.02,110.28 641.80,109.40 C642.58,108.52 643.42,107.70 644.20,107.60 C644.98,107.50 645.73,107.92 646.50,108.80 C647.27,109.68 648.02,111.53 648.80,112.90 C649.58,114.27 650.42,115.73 651.20,117.00 C651.98,118.27 652.72,119.42 653.50,120.50 C654.28,121.58 655.30,122.67 655.90,123.50 C656.50,124.33 656.83,124.58 657.10,125.50 C657.37,126.42 657.42,127.78 657.50,129.00 C657.58,130.22 657.72,131.12 657.60,132.80 C657.48,134.48 657.18,137.00 656.80,139.10 C656.42,141.20 655.95,143.30 655.30,145.40 C654.65,147.50 653.95,149.73 652.90,151.70 C651.85,153.67 650.32,155.60 649.00,157.20 C647.68,158.80 646.23,159.73 645.00,161.30 C643.77,162.87 642.72,164.90 641.60,166.60 C640.48,168.30 639.40,169.87 638.30,171.50 C637.20,173.13 636.00,175.03 635.00,176.40 C634.00,177.77 633.22,178.92 632.30,179.70 C631.38,180.48 630.32,180.92 629.50,181.10 C628.68,181.28 628.22,181.30 627.40,180.80 C626.58,180.30 625.52,179.18 624.60,178.10 C623.68,177.02 622.90,175.48 621.90,174.30 C620.90,173.12 619.70,171.88 618.60,171.00 C617.50,170.12 616.40,169.38 615.30,169.00 C614.20,168.62 612.95,168.78 612.00,168.70 C611.05,168.62 610.73,168.43 609.60,168.50 C608.47,168.57 606.65,168.75 605.20,169.10 C603.75,169.45 602.33,170.12 600.90,170.60 C599.47,171.08 598.03,171.65 596.60,172.00 C595.17,172.35 593.73,172.68 592.30,172.70 C590.87,172.72 589.07,172.40 588.00,172.10 C586.93,171.80 586.97,171.35 585.90,170.90 C584.83,170.45 583.05,169.85 581.60,169.40 C580.15,168.95 578.65,168.48 577.20,168.20 C575.75,167.92 574.33,167.82 572.90,167.70 C571.47,167.58 570.03,167.32 568.60,167.50 C567.17,167.68 565.57,168.28 564.30,168.80 C563.03,169.32 562.05,169.95 561.00,170.60 C559.95,171.25 559.17,171.92 558.00,172.70 C556.83,173.48 555.33,174.42 554.00,175.30 C552.67,176.18 551.33,177.22 550.00,178.00 C548.67,178.78 547.33,179.60 546.00,180.00 C544.67,180.40 543.33,180.47 542.00,180.40 C540.67,180.33 539.33,180.12 538.00,179.60 C536.67,179.08 535.33,178.12 534.00,177.30 C532.67,176.48 531.20,175.35 530.00,174.70 C528.80,174.05 528.03,173.92 526.80,173.40 C525.57,172.88 524.00,171.95 522.60,171.60 C521.20,171.25 519.82,171.12 518.40,171.30 C516.98,171.48 515.52,172.00 514.10,172.70 C512.68,173.40 511.18,174.78 509.90,175.50 C508.62,176.22 507.58,176.95 506.40,177.00 C505.22,177.05 503.87,176.33 502.80,175.80 C501.73,175.27 500.77,174.42 500.00,173.80 C499.23,173.18 499.28,173.07 498.20,172.10 C497.12,171.13 495.07,169.47 493.50,168.00 C491.93,166.53 490.37,164.87 488.80,163.30 C487.23,161.73 485.67,159.97 484.10,158.60 C482.53,157.23 480.97,155.98 479.40,155.10 C477.83,154.22 476.27,153.80 474.70,153.30 C473.13,152.80 472.55,152.57 470.00,152.10 C467.45,151.63 462.73,150.97 459.40,150.50 C456.07,150.03 453.12,149.60 450.00,149.30 C446.88,149.00 444.58,148.97 440.70,148.70 C436.82,148.43 430.48,147.90 426.70,147.70 C422.92,147.50 420.73,147.57 418.00,147.50 C415.27,147.43 411.58,147.33 410.30,147.30" fill="none" stroke="#000000" stroke-width="1.0" stroke-linejoin="round"/>
<path d="M410.30,147.30 C411.58,147.25 415.27,147.13 418.00,147.00 C420.73,146.87 422.92,146.69 426.70,146.50 C430.48,146.31 436.82,146.05 440.70,145.85 C444.58,145.65 446.78,145.43 450.00,145.30 C453.22,145.17 456.33,145.12 460.00,145.05 C463.67,144.98 467.83,144.92 472.00,144.85 C476.17,144.78 481.17,144.72 485.00,144.65 C488.83,144.58 491.67,144.51 495.00,144.40 C498.33,144.29 502.67,144.23 505.00,144.00 C507.33,143.77 507.55,143.38 509.00,143.00 C510.45,142.62 512.10,142.33 513.70,141.70 C515.30,141.07 517.13,140.02 518.60,139.20 C520.07,138.38 521.18,137.78 522.50,136.80 C523.82,135.82 525.40,134.52 526.50,133.30 C527.60,132.08 527.98,131.13 529.10,129.50 C530.22,127.87 531.92,125.48 533.20,123.50 C534.48,121.52 535.82,119.55 536.80,117.60 C537.78,115.65 538.32,113.75 539.10,111.80 C539.88,109.85 540.82,107.78 541.50,105.90 C542.18,104.02 542.48,102.38 543.20,100.50 C543.92,98.62 545.03,96.57 545.80,94.60 C546.57,92.63 547.10,90.60 547.80,88.70 C548.50,86.80 549.35,84.82 550.00,83.20 C550.65,81.58 551.05,80.77 551.70,79.00 C552.35,77.23 553.03,74.40 553.90,72.60 C554.77,70.80 555.92,69.33 556.90,68.20 C557.88,67.07 558.90,66.28 559.80,65.80 C560.70,65.32 561.48,65.22 562.30,65.30 C563.12,65.38 563.97,65.65 564.70,66.30 C565.43,66.95 566.10,68.02 566.70,69.20 C567.30,70.38 567.70,71.55 568.30,73.40 C568.90,75.25 569.77,78.12 570.30,80.30 C570.83,82.48 571.12,84.48 571.50,86.50 C571.88,88.52 572.12,90.32 572.60,92.40 C573.08,94.48 573.93,97.25 574.40,99.00 C574.87,100.75 574.98,101.43 575.40,102.90 C575.82,104.37 576.32,106.17 576.90,107.80 C577.48,109.43 578.17,111.32 578.90,112.70 C579.63,114.08 580.40,115.20 581.30,116.10 C582.20,117.00 583.23,117.68 584.30,118.10 C585.37,118.52 586.48,118.55 587.70,118.60 C588.92,118.65 590.30,118.57 591.60,118.40 C592.90,118.23 594.22,117.93 595.50,117.60 C596.78,117.27 597.95,116.78 599.30,116.40 C600.65,116.02 602.17,115.50 603.60,115.30 C605.03,115.10 606.47,114.88 607.90,115.20 C609.33,115.52 610.75,116.58 612.20,117.20 C613.65,117.82 615.15,118.47 616.60,118.90 C618.05,119.33 619.50,119.65 620.90,119.80 C622.30,119.95 623.65,119.90 625.00,119.80 C626.35,119.70 627.67,119.47 629.00,119.20 C630.33,118.93 631.75,118.67 633.00,118.20 C634.25,117.73 635.42,117.28 636.50,116.40 C637.58,115.52 638.62,114.07 639.50,112.90 C640.38,111.73 641.02,110.28 641.80,109.40 C642.58,108.52 643.42,107.70 644.20,107.60 C644.98,107.50 645.73,107.92 646.50,108.80 C647.27,109.68 648.02,111.53 648.80,112.90 C649.58,114.27 650.42,115.73 651.20,117.00 C651.98,118.27 652.72,119.42 653.50,120.50 C654.28,121.58 655.30,122.67 655.90,123.50 C656.50,124.33 656.83,124.58 657.10,125.50 C657.37,126.42 657.42,127.75 657.50,129.00 C657.58,130.25 657.72,131.25 657.60,133.00 C657.48,134.75 657.17,137.33 656.80,139.50 C656.43,141.67 655.98,143.92 655.40,146.00 C654.82,148.08 654.23,150.03 653.30,152.00 C652.37,153.97 651.02,156.05 649.80,157.80 C648.58,159.55 647.18,160.85 646.00,162.50 C644.82,164.15 643.98,165.83 642.70,167.70 C641.42,169.57 639.77,171.70 638.30,173.70 C636.83,175.70 635.03,178.32 633.90,179.70 C632.77,181.08 632.23,181.53 631.50,182.00 C630.77,182.47 630.25,182.58 629.50,182.50 C628.75,182.42 627.82,182.15 627.00,181.50 C626.18,180.85 625.45,179.73 624.60,178.60 C623.75,177.47 622.90,175.92 621.90,174.70 C620.90,173.48 619.70,172.18 618.60,171.30 C617.50,170.42 616.40,169.77 615.30,169.40 C614.20,169.03 612.95,169.17 612.00,169.10 C611.05,169.03 610.73,168.88 609.60,169.00 C608.47,169.12 606.65,169.42 605.20,169.80 C603.75,170.18 602.33,170.80 600.90,171.30 C599.47,171.80 598.03,172.42 596.60,172.80 C595.17,173.18 593.73,173.52 592.30,173.60 C590.87,173.68 589.07,173.40 588.00,173.30 C586.93,173.20 586.97,173.30 585.90,173.00 C584.83,172.70 583.05,171.95 581.60,171.50 C580.15,171.05 578.65,170.57 577.20,170.30 C575.75,170.03 574.33,169.95 572.90,169.90 C571.47,169.85 570.03,169.73 568.60,170.00 C567.17,170.27 565.65,170.87 564.30,171.50 C562.95,172.13 561.77,172.93 560.50,173.80 C559.23,174.67 558.00,175.55 556.70,176.70 C555.40,177.85 554.03,179.48 552.70,180.70 C551.37,181.92 549.93,183.12 548.70,184.00 C547.47,184.88 546.42,185.55 545.30,186.00 C544.18,186.45 543.22,186.88 542.00,186.70 C540.78,186.52 539.33,185.68 538.00,184.90 C536.67,184.12 535.33,183.00 534.00,182.00 C532.67,181.00 530.97,179.62 530.00,178.90 C529.03,178.18 529.08,178.27 528.20,177.70 C527.32,177.13 525.87,176.08 524.70,175.50 C523.53,174.92 522.48,174.33 521.20,174.20 C519.92,174.07 518.42,174.77 517.00,174.70 C515.58,174.63 514.12,174.25 512.70,173.80 C511.28,173.35 509.92,172.77 508.50,172.00 C507.08,171.23 505.62,170.27 504.20,169.20 C502.78,168.13 501.18,166.48 500.00,165.60 C498.82,164.72 498.57,164.77 497.10,163.90 C495.63,163.03 493.37,161.68 491.20,160.40 C489.03,159.12 486.45,157.38 484.10,156.20 C481.75,155.02 479.45,154.08 477.10,153.30 C474.75,152.52 472.95,151.97 470.00,151.50 C467.05,151.03 462.73,150.87 459.40,150.50 C456.07,150.13 453.12,149.60 450.00,149.30 C446.88,149.00 444.58,148.97 440.70,148.70 C436.82,148.43 430.48,147.90 426.70,147.70 C422.92,147.50 420.73,147.57 418.00,147.50 C415.27,147.43 411.58,147.33 410.30,147.30" fill="none" stroke="#ff0000" stroke-width="1.0" stroke-linejoin="round"/>
<path d="M410.30,147.30 C411.58,147.25 415.27,147.13 418.00,147.00 C420.73,146.87 422.92,146.69 426.70,146.50 C430.48,146.31 436.82,146.05 440.70,145.85 C444.58,145.65 446.78,145.43 450.00,145.30 C453.22,145.17 456.33,145.12 460.00,145.05 C463.67,144.98 467.83,144.92 472.00,144.85 C476.17,144.78 481.17,144.72 485.00,144.65 C488.83,144.58 491.67,144.51 495.00,144.40 C498.33,144.29 502.20,144.48 505.00,144.00 C507.80,143.52 509.85,142.30 511.80,141.50 C513.75,140.70 515.23,139.98 516.70,139.20 C518.17,138.42 519.30,137.78 520.60,136.80 C521.90,135.82 523.20,134.57 524.50,133.30 C525.80,132.03 527.32,130.28 528.40,129.20 C529.48,128.12 530.10,127.50 531.00,126.80 C531.90,126.10 532.65,126.03 533.80,125.00 C534.95,123.97 536.62,122.22 537.90,120.60 C539.18,118.98 540.42,117.17 541.50,115.30 C542.58,113.43 543.52,111.55 544.40,109.40 C545.28,107.25 546.23,104.05 546.80,102.40 C547.37,100.75 547.15,100.97 547.80,99.50 C548.45,98.03 549.72,95.72 550.70,93.60 C551.68,91.48 552.82,88.98 553.70,86.80 C554.58,84.62 555.15,82.70 556.00,80.50 C556.85,78.30 557.83,75.48 558.80,73.60 C559.77,71.72 560.82,70.37 561.80,69.20 C562.78,68.03 563.80,67.08 564.70,66.60 C565.60,66.12 566.38,65.90 567.20,66.30 C568.02,66.70 568.83,67.80 569.60,69.00 C570.37,70.20 571.13,71.75 571.80,73.50 C572.47,75.25 573.07,77.33 573.60,79.50 C574.13,81.67 574.47,84.17 575.00,86.50 C575.53,88.83 576.30,91.50 576.80,93.50 C577.30,95.50 577.65,96.93 578.00,98.50 C578.35,100.07 578.52,101.35 578.90,102.90 C579.28,104.45 579.73,106.25 580.30,107.80 C580.87,109.35 581.48,110.97 582.30,112.20 C583.12,113.43 584.13,114.50 585.20,115.20 C586.27,115.90 587.47,116.17 588.70,116.40 C589.93,116.63 591.22,116.62 592.60,116.60 C593.98,116.58 595.77,116.43 597.00,116.30 C598.23,116.17 598.90,115.97 600.00,115.80 C601.10,115.63 602.28,115.37 603.60,115.30 C604.92,115.23 606.47,115.05 607.90,115.40 C609.33,115.75 610.75,116.78 612.20,117.40 C613.65,118.02 615.15,118.67 616.60,119.10 C618.05,119.53 619.50,119.82 620.90,120.00 C622.30,120.18 623.65,120.18 625.00,120.20 C626.35,120.22 627.67,120.17 629.00,120.10 C630.33,120.03 631.75,120.22 633.00,119.80 C634.25,119.38 635.33,118.65 636.50,117.60 C637.67,116.55 638.92,114.77 640.00,113.50 C641.08,112.23 642.02,110.83 643.00,110.00 C643.98,109.17 645.02,108.50 645.90,108.50 C646.78,108.50 647.52,109.17 648.30,110.00 C649.08,110.83 649.82,112.23 650.60,113.50 C651.38,114.77 652.22,116.33 653.00,117.60 C653.78,118.87 654.62,120.12 655.30,121.10 C655.98,122.08 656.73,122.18 657.10,123.50 C657.47,124.82 657.42,127.45 657.50,129.00 C657.58,130.55 657.72,131.12 657.60,132.80 C657.48,134.48 657.18,137.00 656.80,139.10 C656.42,141.20 655.95,143.30 655.30,145.40 C654.65,147.50 653.95,149.73 652.90,151.70 C651.85,153.67 650.32,155.60 649.00,157.20 C647.68,158.80 646.23,159.73 645.00,161.30 C643.77,162.87 642.72,164.90 641.60,166.60 C640.48,168.30 639.40,169.87 638.30,171.50 C637.20,173.13 636.00,175.03 635.00,176.40 C634.00,177.77 633.22,178.92 632.30,179.70 C631.38,180.48 630.32,180.92 629.50,181.10 C628.68,181.28 628.22,181.30 627.40,180.80 C626.58,180.30 625.52,179.18 624.60,178.10 C623.68,177.02 622.90,175.48 621.90,174.30 C620.90,173.12 619.70,171.88 618.60,171.00 C617.50,170.12 616.40,169.38 615.30,169.00 C614.20,168.62 612.95,168.78 612.00,168.70 C611.05,168.62 610.73,168.42 609.60,168.50 C608.47,168.58 606.65,168.82 605.20,169.20 C603.75,169.58 602.33,170.30 600.90,170.80 C599.47,171.30 598.03,171.82 596.60,172.20 C595.17,172.58 593.73,173.00 592.30,173.10 C590.87,173.20 589.07,172.90 588.00,172.80 C586.93,172.70 586.97,172.82 585.90,172.50 C584.83,172.18 583.05,171.33 581.60,170.90 C580.15,170.47 578.65,170.13 577.20,169.90 C575.75,169.67 574.33,169.55 572.90,169.50 C571.47,169.45 570.00,169.42 568.60,169.60 C567.20,169.78 565.60,170.23 564.50,170.60 C563.40,170.97 563.08,171.10 562.00,171.80 C560.92,172.50 559.33,173.68 558.00,174.80 C556.67,175.92 555.27,177.15 554.00,178.50 C552.73,179.85 551.73,181.72 550.40,182.90 C549.07,184.08 547.40,185.00 546.00,185.60 C544.60,186.20 543.33,186.38 542.00,186.50 C540.67,186.62 539.55,186.52 538.00,186.30 C536.45,186.08 534.88,185.75 532.70,185.20 C530.52,184.65 527.50,184.02 524.90,183.00 C522.30,181.98 519.08,180.27 517.10,179.10 C515.12,177.93 514.32,177.12 513.00,176.00 C511.68,174.88 510.53,173.68 509.20,172.40 C507.87,171.12 506.30,169.60 505.00,168.30 C503.70,167.00 502.65,165.73 501.40,164.60 C500.15,163.47 498.82,162.45 497.50,161.50 C496.18,160.55 495.15,159.77 493.50,158.90 C491.85,158.03 489.55,157.13 487.60,156.30 C485.65,155.47 483.73,154.52 481.80,153.90 C479.87,153.28 477.97,152.97 476.00,152.60 C474.03,152.23 472.77,152.05 470.00,151.70 C467.23,151.35 462.73,150.90 459.40,150.50 C456.07,150.10 453.12,149.60 450.00,149.30 C446.88,149.00 444.58,148.97 440.70,148.70 C436.82,148.43 430.48,147.90 426.70,147.70 C422.92,147.50 420.73,147.57 418.00,147.50 C415.27,147.43 411.58,147.33 410.30,147.30" fill="none" stroke="#0000ff" stroke-width="1.0" stroke-linejoin="round"/>
<path d="M410.30,147.30 C411.58,147.25 415.27,147.13 418.00,147.00 C420.73,146.87 422.92,146.68 426.70,146.50 C430.48,146.32 436.82,146.03 440.70,145.90 C444.58,145.77 446.78,145.76 450.00,145.70 C453.22,145.64 456.33,145.60 460.00,145.55 C463.67,145.50 467.83,145.47 472.00,145.40 C476.17,145.33 481.17,145.27 485.00,145.15 C488.83,145.03 492.50,144.86 495.00,144.70 C497.50,144.54 498.18,144.47 500.00,144.20 C501.82,143.93 503.93,143.68 505.90,143.10 C507.87,142.52 510.00,141.60 511.80,140.70 C513.60,139.80 515.23,138.77 516.70,137.70 C518.17,136.63 519.38,135.52 520.60,134.30 C521.82,133.08 523.02,131.62 524.00,130.40 C524.98,129.18 525.55,128.25 526.50,127.00 C527.45,125.75 528.38,124.47 529.70,122.90 C531.02,121.33 532.93,119.45 534.40,117.60 C535.87,115.75 537.22,113.75 538.50,111.80 C539.78,109.85 540.92,107.82 542.10,105.90 C543.28,103.98 544.48,102.35 545.60,100.30 C546.72,98.25 547.62,95.85 548.80,93.60 C549.98,91.35 551.48,88.70 552.70,86.80 C553.92,84.90 554.95,83.57 556.10,82.20 C557.25,80.83 558.62,79.63 559.60,78.60 C560.58,77.57 561.10,76.73 562.00,76.00 C562.90,75.27 564.03,74.28 565.00,74.20 C565.97,74.12 567.02,74.87 567.80,75.50 C568.58,76.13 569.08,76.77 569.70,78.00 C570.32,79.23 570.92,81.10 571.50,82.90 C572.08,84.70 572.62,87.03 573.20,88.80 C573.78,90.57 574.40,91.88 575.00,93.50 C575.60,95.12 576.07,96.60 576.80,98.50 C577.53,100.40 578.65,103.02 579.40,104.90 C580.15,106.78 580.57,108.33 581.30,109.80 C582.03,111.27 582.90,112.65 583.80,113.70 C584.70,114.75 585.57,115.53 586.70,116.10 C587.83,116.67 589.30,116.93 590.60,117.10 C591.90,117.27 593.43,117.18 594.50,117.10 C595.57,117.02 596.20,116.75 597.00,116.60 C597.80,116.45 598.20,116.43 599.30,116.20 C600.40,115.97 602.17,115.33 603.60,115.20 C605.03,115.07 606.47,115.03 607.90,115.40 C609.33,115.77 610.75,116.78 612.20,117.40 C613.65,118.02 615.15,118.67 616.60,119.10 C618.05,119.53 619.50,119.82 620.90,120.00 C622.30,120.18 623.65,120.18 625.00,120.20 C626.35,120.22 627.67,120.17 629.00,120.10 C630.33,120.03 631.75,120.22 633.00,119.80 C634.25,119.38 635.33,118.65 636.50,117.60 C637.67,116.55 638.92,114.77 640.00,113.50 C641.08,112.23 642.02,110.83 643.00,110.00 C643.98,109.17 645.02,108.50 645.90,108.50 C646.78,108.50 647.52,109.17 648.30,110.00 C649.08,110.83 649.82,112.23 650.60,113.50 C651.38,114.77 652.22,116.33 653.00,117.60 C653.78,118.87 654.62,120.12 655.30,121.10 C655.98,122.08 656.73,122.18 657.10,123.50 C657.47,124.82 657.42,127.45 657.50,129.00 C657.58,130.55 657.72,131.12 657.60,132.80 C657.48,134.48 657.18,137.00 656.80,139.10 C656.42,141.20 655.95,143.30 655.30,145.40 C654.65,147.50 653.95,149.73 652.90,151.70 C651.85,153.67 650.32,155.60 649.00,157.20 C647.68,158.80 646.23,159.73 645.00,161.30 C643.77,162.87 642.72,164.90 641.60,166.60 C640.48,168.30 639.40,169.87 638.30,171.50 C637.20,173.13 636.00,175.03 635.00,176.40 C634.00,177.77 633.22,178.92 632.30,179.70 C631.38,180.48 630.32,180.92 629.50,181.10 C628.68,181.28 628.22,181.30 627.40,180.80 C626.58,180.30 625.52,179.18 624.60,178.10 C623.68,177.02 622.90,175.48 621.90,174.30 C620.90,173.12 619.70,171.88 618.60,171.00 C617.50,170.12 616.40,169.38 615.30,169.00 C614.20,168.62 612.95,168.78 612.00,168.70 C611.05,168.62 610.73,168.42 609.60,168.50 C608.47,168.58 606.65,168.82 605.20,169.20 C603.75,169.58 602.33,170.30 600.90,170.80 C599.47,171.30 598.03,171.82 596.60,172.20 C595.17,172.58 593.73,173.00 592.30,173.10 C590.87,173.20 589.07,172.90 588.00,172.80 C586.93,172.70 586.97,172.82 585.90,172.50 C584.83,172.18 583.05,171.33 581.60,170.90 C580.15,170.47 578.65,170.13 577.20,169.90 C575.75,169.67 574.33,169.55 572.90,169.50 C571.47,169.45 570.03,169.38 568.60,169.60 C567.17,169.82 565.65,170.32 564.30,170.80 C562.95,171.28 561.72,171.77 560.50,172.50 C559.28,173.23 558.08,174.18 557.00,175.20 C555.92,176.22 555.00,177.40 554.00,178.60 C553.00,179.80 551.93,181.23 551.00,182.40 C550.07,183.57 549.45,184.52 548.40,185.60 C547.35,186.68 545.98,187.97 544.70,188.90 C543.42,189.83 541.98,190.68 540.70,191.20 C539.42,191.72 538.20,192.00 537.00,192.00 C535.80,192.00 534.87,191.82 533.50,191.20 C532.13,190.58 530.57,189.63 528.80,188.30 C527.03,186.97 524.85,185.15 522.90,183.20 C520.95,181.25 519.05,178.85 517.10,176.60 C515.15,174.35 513.17,171.85 511.20,169.70 C509.23,167.55 507.27,165.38 505.30,163.70 C503.33,162.02 501.20,160.68 499.40,159.60 C497.60,158.52 496.13,157.93 494.50,157.20 C492.87,156.47 492.05,155.93 489.60,155.20 C487.15,154.47 483.07,153.40 479.80,152.80 C476.53,152.20 473.40,151.98 470.00,151.60 C466.60,151.22 462.73,150.88 459.40,150.50 C456.07,150.12 453.12,149.60 450.00,149.30 C446.88,149.00 444.58,148.97 440.70,148.70 C436.82,148.43 430.48,147.90 426.70,147.70 C422.92,147.50 420.73,147.57 418.00,147.50 C415.27,147.43 411.58,147.33 410.30,147.30" fill="none" stroke="#008000" stroke-width="1.0" stroke-linejoin="round"/>
<path d="M391.60,5.75 H676.50 V214.62 H391.60 Z" fill="none" stroke="#262626" stroke-width="1.35"/>
<line x1="391.60" y1="197.00" x2="394.20" y2="197.00" stroke="#222" stroke-width="1.2"/>
<line x1="391.60" y1="179.60" x2="396.40" y2="179.60" stroke="#222" stroke-width="1.2"/>
<line x1="391.60" y1="162.20" x2="394.20" y2="162.20" stroke="#222" stroke-width="1.2"/>
<line x1="391.60" y1="144.80" x2="396.40" y2="144.80" stroke="#222" stroke-width="1.2"/>
<line x1="391.60" y1="127.40" x2="394.20" y2="127.40" stroke="#222" stroke-width="1.2"/>
<line x1="391.60" y1="110.00" x2="396.40" y2="110.00" stroke="#222" stroke-width="1.2"/>
<line x1="391.60" y1="92.60" x2="394.20" y2="92.60" stroke="#222" stroke-width="1.2"/>
<line x1="391.60" y1="75.20" x2="396.40" y2="75.20" stroke="#222" stroke-width="1.2"/>
<line x1="391.60" y1="57.80" x2="394.20" y2="57.80" stroke="#222" stroke-width="1.2"/>
<line x1="391.60" y1="40.40" x2="396.40" y2="40.40" stroke="#222" stroke-width="1.2"/>
<line x1="391.60" y1="23.00" x2="394.20" y2="23.00" stroke="#222" stroke-width="1.2"/>
<text x="386.80" y="218.00" class="tl" text-anchor="end">-4</text>
<text x="386.80" y="183.20" class="tl" text-anchor="end">-2</text>
<text x="386.80" y="148.40" class="tl" text-anchor="end">0</text>
<text x="386.80" y="113.60" class="tl" text-anchor="end">2</text>
<text x="386.80" y="78.80" class="tl" text-anchor="end">4</text>
<text x="386.80" y="44.00" class="tl" text-anchor="end">6</text>
<text x="386.80" y="9.20" class="tl" text-anchor="end">8</text>
<line x1="410.59" y1="214.40" x2="410.59" y2="210.80" stroke="#222" stroke-width="1.2"/>
<line x1="429.59" y1="214.40" x2="429.59" y2="212.70" stroke="#222" stroke-width="1.2"/>
<line x1="448.58" y1="214.40" x2="448.58" y2="210.80" stroke="#222" stroke-width="1.2"/>
<line x1="467.57" y1="214.40" x2="467.57" y2="212.70" stroke="#222" stroke-width="1.2"/>
<line x1="486.57" y1="214.40" x2="486.57" y2="210.80" stroke="#222" stroke-width="1.2"/>
<line x1="505.56" y1="214.40" x2="505.56" y2="212.70" stroke="#222" stroke-width="1.2"/>
<line x1="524.55" y1="214.40" x2="524.55" y2="210.80" stroke="#222" stroke-width="1.2"/>
<line x1="543.55" y1="214.40" x2="543.55" y2="212.70" stroke="#222" stroke-width="1.2"/>
<line x1="562.54" y1="214.40" x2="562.54" y2="210.80" stroke="#222" stroke-width="1.2"/>
<line x1="581.53" y1="214.40" x2="581.53" y2="212.70" stroke="#222" stroke-width="1.2"/>
<line x1="600.53" y1="214.40" x2="600.53" y2="210.80" stroke="#222" stroke-width="1.2"/>
<line x1="619.52" y1="214.40" x2="619.52" y2="212.70" stroke="#222" stroke-width="1.2"/>
<line x1="638.51" y1="214.40" x2="638.51" y2="210.80" stroke="#222" stroke-width="1.2"/>
<line x1="657.51" y1="214.40" x2="657.51" y2="212.70" stroke="#222" stroke-width="1.2"/>
<text x="410.59" y="229.20" class="tl" text-anchor="middle">3.0</text>
<text x="448.58" y="229.20" class="tl" text-anchor="middle">3.2</text>
<text x="486.57" y="229.20" class="tl" text-anchor="middle">3.4</text>
<text x="524.55" y="229.20" class="tl" text-anchor="middle">3.6</text>
<text x="562.54" y="229.20" class="tl" text-anchor="middle">3.8</text>
<text x="600.53" y="229.20" class="tl" text-anchor="middle">4.0</text>
<text x="638.51" y="229.20" class="tl" text-anchor="middle">4.2</text>
<text x="676.50" y="229.20" class="tl" text-anchor="middle">4.4</text>
<line x1="630.00" y1="13.30" x2="653.40" y2="13.30" stroke="#000000" stroke-width="1.05"/>
<text x="655.90" y="16.80" class="lg lgb">1st</text>
<line x1="630.00" y1="26.10" x2="653.40" y2="26.10" stroke="#ff0000" stroke-width="1.05"/>
<text x="655.90" y="29.60" class="lg lgb">3rd</text>
<line x1="630.00" y1="38.90" x2="653.40" y2="38.90" stroke="#0000ff" stroke-width="1.05"/>
<text x="655.90" y="42.40" class="lg lgb">5th</text>
<line x1="630.00" y1="51.70" x2="653.40" y2="51.70" stroke="#008000" stroke-width="1.05"/>
<text x="655.90" y="55.20" class="lg lgb">7th</text>
<text x="398.80" y="28.50" class="pl">(b)</text>
<text x="543.20" y="250.20" class="at" style="font-size:16.4px" text-anchor="middle">Voltage (V)</text>
<text transform="translate(364.60,110.90) rotate(-90)" class="at" text-anchor="middle">Current (mA)</text>
</svg>
</body></html>
